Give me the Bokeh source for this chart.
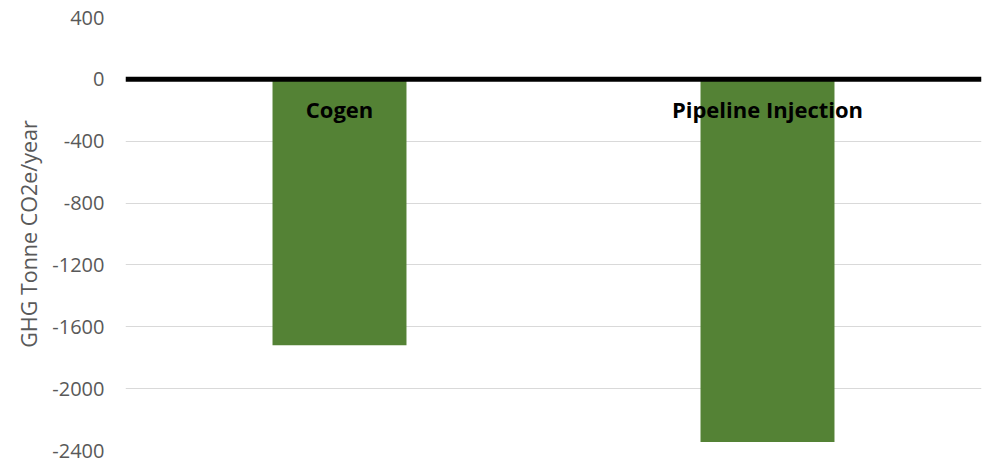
from bokeh.plotting import figure
from bokeh.models import ColumnDataSource, Span, FixedTicker, Range1d
from bokeh.core.properties import value
from bokeh.embed import file_html
from bokeh.resources import INLINE

# Annual GHG change per option (tonne CO2e/year)
categories = ["Cogen", "Pipeline Injection"]
ghg_values = [-1720, -2345]
y_ticks = [400, 0, -400, -800, -1200, -1600, -2000, -2400]

source = ColumnDataSource(dict(cat=categories, val=ghg_values))

p = figure(
    x_range=categories,
    y_range=Range1d(-2400, 400),
    width=984,
    height=464,
    output_backend="svg",
    toolbar_location=None,
    min_border_left=125,
    min_border_right=3,
    min_border_top=17,
    min_border_bottom=14,
)
p.outline_line_color = None
p.background_fill_color = "white"
p.border_fill_color = "white"

p.vbar(x="cat", top="val", bottom=0, width=0.313, source=source,
       fill_color="#548235", line_color=None)

# Zero baseline
p.add_layout(Span(location=0, dimension="width", line_color="black", line_width=5))

# Category names drawn just below the baseline
p.text(x="cat", y=0, text="cat", source=source, y_offset=30,
       text_align="center", text_baseline="middle",
       text_font=value("Open Sans"), text_font_style="bold",
       text_font_size="22px", text_color="black")

p.xaxis.visible = False
p.xgrid.visible = False

ax = p.yaxis[0]
ax.ticker = FixedTicker(ticks=y_ticks)
ax.major_label_overrides = {t: str(t) for t in y_ticks}
ax.axis_line_color = None
ax.major_tick_line_color = None
ax.minor_tick_line_color = None
ax.major_label_standoff = 15
ax.major_label_text_font = "Open Sans"
ax.major_label_text_font_size = "20px"
ax.major_label_text_color = "#595959"
ax.axis_label = "GHG Tonne CO2e/year"
ax.axis_label_text_font = "Open Sans"
ax.axis_label_text_font_size = "21.5px"
ax.axis_label_text_font_style = "normal"
ax.axis_label_text_color = "#595959"
ax.axis_label_standoff = 6

p.ygrid.grid_line_color = "#d9d9d9"
p.ygrid.grid_line_width = 1

open("out.html", "w").write(file_html(p, INLINE))
